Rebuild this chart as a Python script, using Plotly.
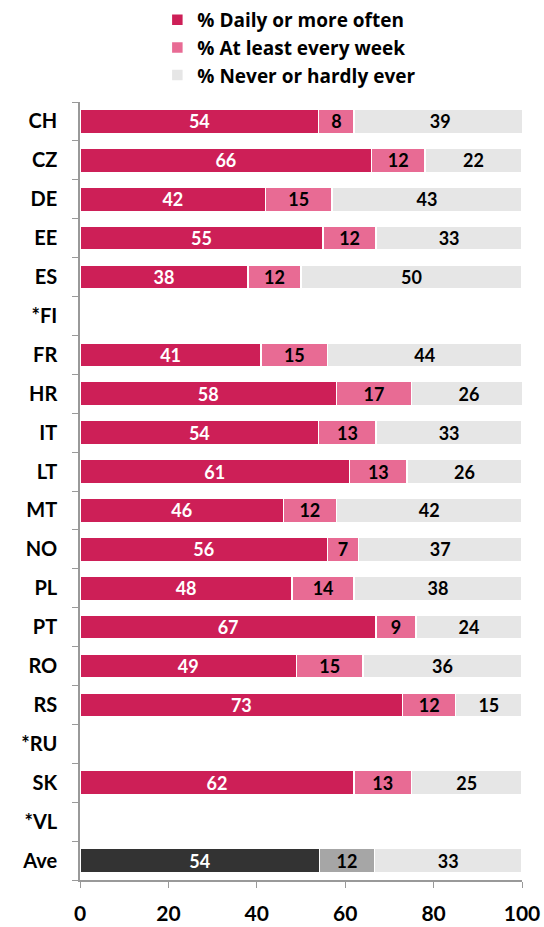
import plotly.graph_objects as go

categories = ["CH", "CZ", "DE", "EE", "ES", "*FI", "FR", "HR", "IT", "LT", "MT",
              "NO", "PL", "PT", "RO", "RS", "*RU", "SK", "*VL", "Ave"]
daily = [54, 66, 42, 55, 38, None, 41, 58, 54, 61, 46, 56, 48, 67, 49, 73, None, 62, None, 54.2]
weekly = [8, 12, 15, 12, 12, None, 15, 17, 13, 13, 12, 7, 14, 9, 15, 12, None, 13, None, 12.4]
never = [39, 22, 43, 33, 50, None, 44, 26, 33, 26, 42, 37, 38, 24, 36, 15, None, 25, None, 33.4]
series_names = ["% Daily or more often", "% At least every week", "% Never or hardly ever"]
x_ticks = [0, 20, 40, 60, 80, 100]

C_DAILY = "#CD1F57"
C_WEEK = "#E86B94"
C_NEVER = "#E6E6E6"
AVE_COLS = ["#333333", "#A6A6A6", "#E6E6E6"]

FONT = "Lato, 'Open Sans', sans-serif"
LEG_FONT = "'Open Sans', Lato, sans-serif"

def colors(base, ave):
    return [ave if c == "Ave" else base for c in categories]

fig = go.Figure()
specs = [
    (daily, C_DAILY, AVE_COLS[0], "white"),
    (weekly, C_WEEK, AVE_COLS[1], "black"),
    (never, C_NEVER, AVE_COLS[2], "black"),
]
for name, (vals, base, ave, tcol) in zip(series_names, specs):
    fig.add_trace(go.Bar(
        name="<b>" + name + "</b>", y=categories, x=vals, orientation="h",
        marker=dict(color=colors(base, ave), line=dict(color="white", width=1.5)),
        texttemplate="<b>%{x:.0f}</b>", textposition="inside", insidetextanchor="middle",
        textangle=0, constraintext="none",
        textfont=dict(family=FONT, size=18, color=tcol),
        hoverinfo="x+y+name",
    ))

fig.update_layout(
    barmode="stack", bargap=0.38,
    width=544, height=927,
    margin=dict(l=80, r=22, t=102, b=47, autoexpand=False),
    paper_bgcolor="white", plot_bgcolor="white",
    font=dict(family=FONT, size=17, color="black"),
    showlegend=True,
    legend=dict(orientation="v", x=0.175, xanchor="left", y=1.13, yanchor="top",
                font=dict(family=LEG_FONT, size=19, color="black"),
                traceorder="normal", itemwidth=30, tracegroupgap=0,
                bgcolor="rgba(0,0,0,0)"),
)
fig.update_xaxes(range=[0, 100], tickvals=x_ticks, ticktext=["<b>%d</b>" % t for t in x_ticks],
                 ticks="outside", ticklen=6,
                 tickcolor="#999999", showline=True, linecolor="#999999", linewidth=1.5,
                 showgrid=False, zeroline=False, automargin=False,
                 tickfont=dict(family=FONT, size=21, color="black"),
                 ticklabelstandoff=8)
fig.update_yaxes(autorange="reversed", type="category", ticks="outside", ticklen=6,
                 tickson="boundaries", tickcolor="#999999", showline=True,
                 linecolor="#999999", linewidth=1.5, showgrid=False, automargin=False,
                 tickvals=categories, ticktext=["<b>%s</b>" % c for c in categories],
                 tickfont=dict(family=FONT, size=20, color="black"),
                 ticklabelstandoff=17)

fig.write_html("out.html", config={"displayModeBar": False},
               post_script="document.body.style.margin='0';document.body.style.overflow='hidden';")
